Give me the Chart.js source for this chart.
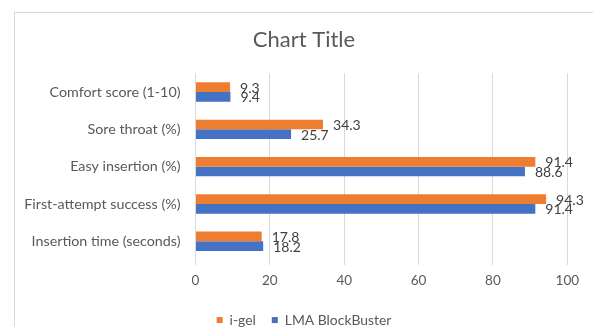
<!DOCTYPE html>
<html>
<head>
<meta charset="utf-8">
<script src="https://cdn.jsdelivr.net/npm/chart.js@4/dist/chart.umd.min.js"></script>
<style>
  html, body { margin: 0; padding: 0; background: #fff; overflow: hidden; }
  #frame {
    position: absolute; left: 14px; top: 12px; width: 600px; height: 340px;
    border: 1px solid #d9d9d9; background: #fff;
  }
  #wrap { position: absolute; left: 0; top: 0; width: 578px; height: 324px; }
</style>
</head>
<body>
<div id="frame"><div id="wrap"><canvas id="chart"></canvas></div></div>
<script>
const CATEGORIES = [
  "Comfort score (1-10)",
  "Sore throat (%)",
  "Easy insertion (%)",
  "First-attempt success (%)",
  "Insertion time (seconds)",
];
const IGEL = [9.3, 34.3, 91.4, 94.3, 17.8];
const LMA = [9.4, 25.7, 88.6, 91.4, 18.2];
const X_MIN = 0;
const X_MAX = 100;
const X_STEP = 20;

const FONT = "Lato, 'Open Sans', sans-serif";
const TEXT = "#595959";

// value labels just past the end of each bar
const barLabels = {
  id: "barLabels",
  afterDatasetsDraw(chart) {
    const ctx = chart.ctx;
    ctx.save();
    ctx.font = `14px ${FONT}`;
    ctx.fillStyle = "#404040";
    ctx.textAlign = "left";
    ctx.textBaseline = "middle";
    chart.data.datasets.forEach((ds, i) => {
      chart.getDatasetMeta(i).data.forEach((bar, j) => {
        ctx.fillText(ds.data[j].toFixed(1), bar.x + 10, bar.y + 1);
      });
    });
    ctx.restore();
  },
};

new Chart(document.getElementById("chart"), {
  type: "bar",
  data: {
    labels: CATEGORIES,
    datasets: [
      { label: "i-gel", data: IGEL, backgroundColor: "#ED7D31", barPercentage: 1, categoryPercentage: 0.52 },
      { label: "LMA BlockBuster", data: LMA, backgroundColor: "#4472C4", barPercentage: 1, categoryPercentage: 0.52 },
    ],
  },
  options: {
    indexAxis: "y",
    responsive: true,
    maintainAspectRatio: false,
    animation: false,
    layout: { padding: { top: 14, right: 0, bottom: 0, left: 0 } },
    plugins: {
      title: {
        display: true,
        text: "Chart Title",
        color: TEXT,
        font: { family: FONT, size: 22, weight: "normal" },
        padding: { top: 0, bottom: 20 },
      },
      legend: {
        position: "bottom",
        labels: {
          color: TEXT,
          font: { family: FONT, size: 13.9 },
          boxWidth: 6,
          boxHeight: 6,
          padding: 16,
        },
      },
      tooltip: { enabled: false },
    },
    scales: {
      x: {
        min: X_MIN,
        max: X_MAX,
        ticks: { stepSize: X_STEP, color: TEXT, font: { family: FONT, size: 13.5 }, padding: 8 },
        grid: { color: "#d9d9d9", tickLength: 5, tickColor: "#d9d9d9" },
        border: { display: false },
        afterFit(scale) { scale.paddingRight = 25.7; },
      },
      y: {
        ticks: { color: TEXT, font: { family: FONT, size: 14.3 }, padding: 15 },
        grid: { display: false, drawTicks: false },
        border: { display: false },
        afterFit(scale) { scale.width = 180.5; },
      },
    },
  },
  plugins: [barLabels],
});
</script>
</body>
</html>
